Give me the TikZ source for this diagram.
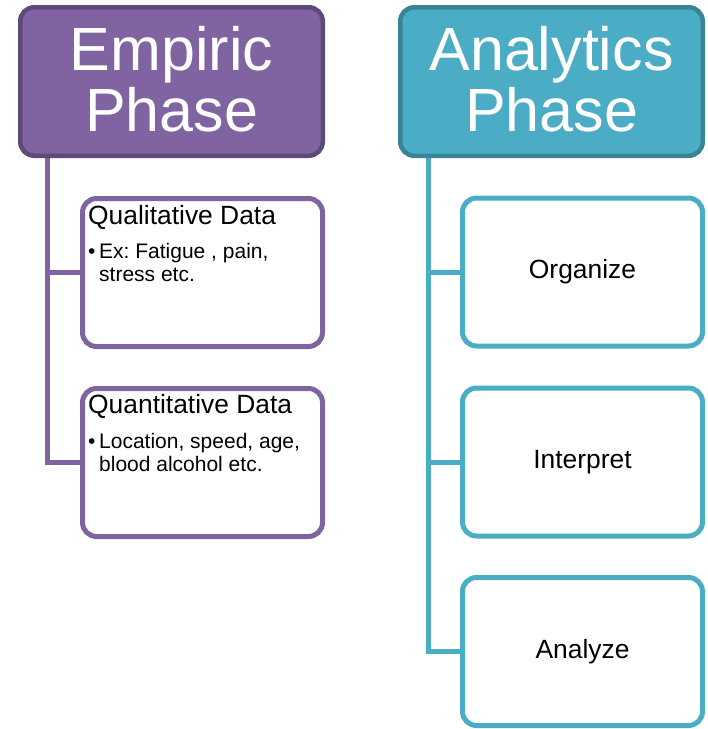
\documentclass[tikz,border=0pt]{standalone}
\usepackage{fontspec}
\setmainfont{Liberation Sans}
\usetikzlibrary{calc,backgrounds}
\definecolor{purp}{HTML}{8064A2}
\definecolor{purpdark}{HTML}{5F497A}
\definecolor{teal}{HTML}{4BACC6}
\definecolor{tealdark}{HTML}{3A8296}
\begin{document}
\frenchspacing
\begin{tikzpicture}[x=1pt,y=-1pt,
  header/.style={draw, line width=4.5pt, rounded corners=14pt, inner sep=0pt,
    minimum width=302.5pt, minimum height=148.5pt, align=center, text=white,
    font=\fontsize{61}{61}\selectfont},
  subbox/.style={draw, line width=5pt, rounded corners=14pt, inner sep=0pt,
    minimum width=240pt, minimum height=148pt, fill=white},
  conn/.style={line width=5pt},
  shad/.style={line width=5pt, draw=black!40, opacity=0.4},
  ttl/.style={anchor=base west, inner sep=0pt, font=\fontsize{26.4}{28}\selectfont},
  bul/.style={anchor=base west, inner sep=0pt, font=\fontsize{21}{23}\selectfont},
  mid/.style={inner sep=0pt, font=\fontsize{26.4}{28}\selectfont}]
\useasboundingbox (0,0) rectangle (708,729);

% header nodes
\node[header, draw=purpdark, fill=purp] (eh) at (171.5,81.5) {Empiric\\Phase\rule[-6pt]{0pt}{0pt}};
\node[header, draw=tealdark, fill=teal] (ah) at (551.5,81.5) {Analytics\\Phase\rule[-6pt]{0pt}{0pt}};

% child boxes
\node[subbox, draw=purp] (q1) at (202.5,272.5) {};
\node[subbox, draw=purp] (q2) at (202.5,462.5) {};
\node[subbox, draw=teal] (a1) at (582.5,272) {};
\node[subbox, draw=teal] (a2) at (582.5,462) {};
\node[subbox, draw=teal] (a3) at (582.5,651.5) {};

\coordinate (et) at ($(eh.south west)+(29,0)$);
\coordinate (at) at ($(ah.south west)+(30,0)$);

\begin{pgfonlayer}{background}
% connector shadows
\begin{scope}[xshift=1.5pt, yshift=-2pt]
\draw[shad] (et) |- (q2.west);
\draw[shad] (et |- q1.west) -- (q1.west);
\draw[shad] (at) |- (a3.west);
\draw[shad] (at |- a1.west) -- (a1.west);
\draw[shad] (at |- a2.west) -- (a2.west);
\end{scope}
% connectors
\draw[conn, purp] (et) |- (q2.west);
\draw[conn, purp] (et |- q1.west) -- (q1.west);
\draw[conn, teal] (at) |- (a3.west);
\draw[conn, teal] (at |- a1.west) -- (a1.west);
\draw[conn, teal] (at |- a2.west) -- (a2.west);
\end{pgfonlayer}

% texts in left boxes
\node[ttl] (q1t) at ($(q1.north west)+(8,28)$) {Qualitative Data};
\node[bul] (q1b1) at ($(q1.north west)+(8,62)$) {\makebox[11pt][l]{•}Ex: Fatigue , pain,};
\node[bul] (q1b2) at ($(q1.north west)+(19,85)$) {stress etc.};
\node[ttl] (q2t) at ($(q2.north west)+(8,27)$) {Quantitative Data};
\node[bul] (q2b1) at ($(q2.north west)+(8,62)$) {\makebox[11pt][l]{•}Location, speed, age,};
\node[bul] (q2b2) at ($(q2.north west)+(19,85)$) {blood alcohol etc.};

% texts in right boxes
\node[mid] (a1t) at (a1) {Organize};
\node[mid] (a2t) at (a2) {Interpret};
\node[mid] (a3t) at (a3) {Analyze};
\end{tikzpicture}
\end{document}
